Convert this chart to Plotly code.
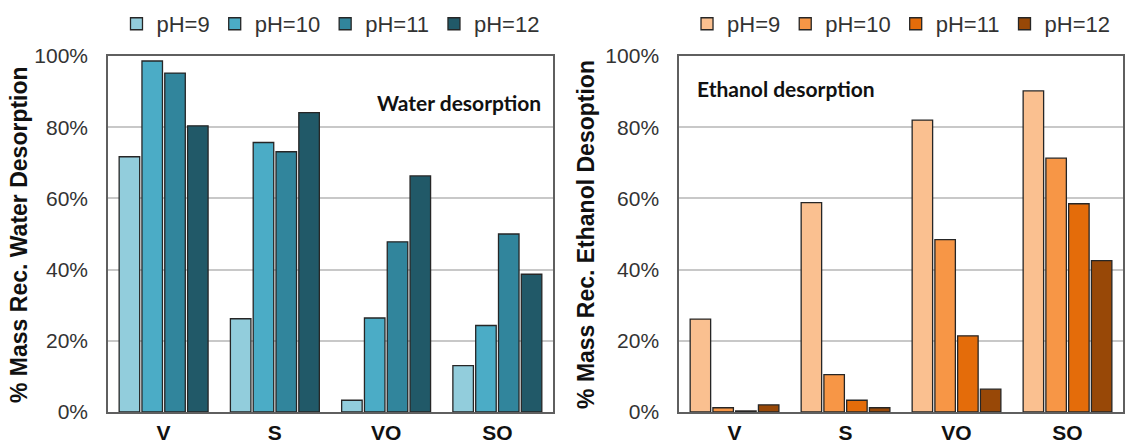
import plotly.graph_objects as go

# Sample categories and pH series
categories = ["V", "S", "VO", "SO"]
ph_labels = ["pH=9", "pH=10", "pH=11", "pH=12"]

# Water desorption, % mass recovered
water_ph9 = [71.7, 26.2, 3.3, 13.0]
water_ph10 = [98.6, 75.7, 26.4, 24.3]
water_ph11 = [95.2, 73.1, 47.8, 50.0]
water_ph12 = [80.4, 84.1, 66.3, 38.7]

# Ethanol desorption, % mass recovered
ethanol_ph9 = [26.1, 58.8, 82.0, 90.2]
ethanol_ph10 = [1.2, 10.5, 48.4, 71.3]
ethanol_ph11 = [0.3, 3.3, 21.4, 58.5]
ethanol_ph12 = [2.0, 1.2, 6.4, 42.5]

y_ticks = [0, 20, 40, 60, 80, 100]
y_tick_labels = ["0%", "20%", "40%", "60%", "80%", "100%"]

water_series = [water_ph9, water_ph10, water_ph11, water_ph12]
ethanol_series = [ethanol_ph9, ethanol_ph10, ethanol_ph11, ethanol_ph12]
water_colors = ["#92CDDC", "#4BACC6", "#31859C", "#215968"]
ethanol_colors = ["#FAC090", "#F79646", "#E46C0A", "#984807"]

FONT = "Arial, Liberation Sans, sans-serif"
EDGE = "#262626"

fig = go.Figure()

for name, vals, col in zip(ph_labels, water_series, water_colors):
    fig.add_trace(go.Bar(
        x=categories, y=vals, name=name, xaxis="x", yaxis="y",
        marker=dict(color=col, line=dict(color=EDGE, width=1.3)),
        legend="legend",
    ))

for name, vals, col in zip(ph_labels, ethanol_series, ethanol_colors):
    fig.add_trace(go.Bar(
        x=categories, y=vals, name=name, xaxis="x2", yaxis="y2",
        marker=dict(color=col, line=dict(color=EDGE, width=1.3)),
        legend="legend2",
    ))

frame = dict(showline=True, linecolor="#5f5f5f", linewidth=1.5, mirror=True,
             automargin=False)

yaxis_common = dict(
    range=[0, 100], tickmode="array", tickvals=y_ticks, ticktext=y_tick_labels,
    showgrid=True, gridcolor="#C8C8C8", gridwidth=1.5,
    zeroline=False, ticks="", ticklabelstandoff=14,
    tickfont=dict(family=FONT, size=21, color="#333333"),
    fixedrange=True, **frame,
)
xaxis_common = dict(
    type="category", showgrid=False, ticks="",
    tickfont=dict(family=FONT, size=21, color="#111111", weight="bold"),
    ticklabelstandoff=1, **frame,
)

legend_common = dict(
    orientation="h", xanchor="center", yanchor="middle", y=1.09,
    font=dict(family=FONT, size=22, color="#333333"),
    bgcolor="rgba(0,0,0,0)", itemclick=False, itemdoubleclick=False,
    traceorder="normal",
)

fig.update_layout(
    width=1125, height=448,
    margin=dict(l=108, r=2, t=56, b=36),
    paper_bgcolor="white", plot_bgcolor="white",
    barmode="group", bargap=0.18, bargroupgap=0.1,
    xaxis=dict(domain=[0, 0.4384], anchor="y", **xaxis_common),
    yaxis=dict(anchor="x", **yaxis_common),
    xaxis2=dict(domain=[0.5626, 1], anchor="y2", **xaxis_common),
    yaxis2=dict(anchor="x2", **yaxis_common),
    legend=dict(x=0.2192, **legend_common),
    legend2=dict(x=0.7813, **legend_common),
    annotations=[
        dict(text="% Mass Rec. Water Desorption", xref="paper", yref="paper",
             x=-0.0877, y=0.5, textangle=-90, showarrow=False,
             xanchor="center", yanchor="middle",
             font=dict(family=FONT, size=23, color="#111111", weight="bold")),
        dict(text="% Mass Rec. Ethanol Desoption", xref="paper", yref="paper",
             x=0.4709, y=0.5, textangle=-90, showarrow=False,
             xanchor="center", yanchor="middle",
             font=dict(family=FONT, size=23, color="#111111", weight="bold")),
        dict(text="Water desorption", xref="x domain", yref="y domain",
             x=0.977, y=0.868, showarrow=False, xanchor="right", yanchor="middle",
             font=dict(family="Lato, Open Sans, sans-serif", size=21,
                       color="#111111", weight="bold")),
        dict(text="Ethanol desorption", xref="x2 domain", yref="y2 domain",
             x=0.036, y=0.909, showarrow=False, xanchor="left", yanchor="middle",
             font=dict(family="Lato, Open Sans, sans-serif", size=21,
                       color="#111111", weight="bold")),
    ],
)

fig.write_html("out.html")
